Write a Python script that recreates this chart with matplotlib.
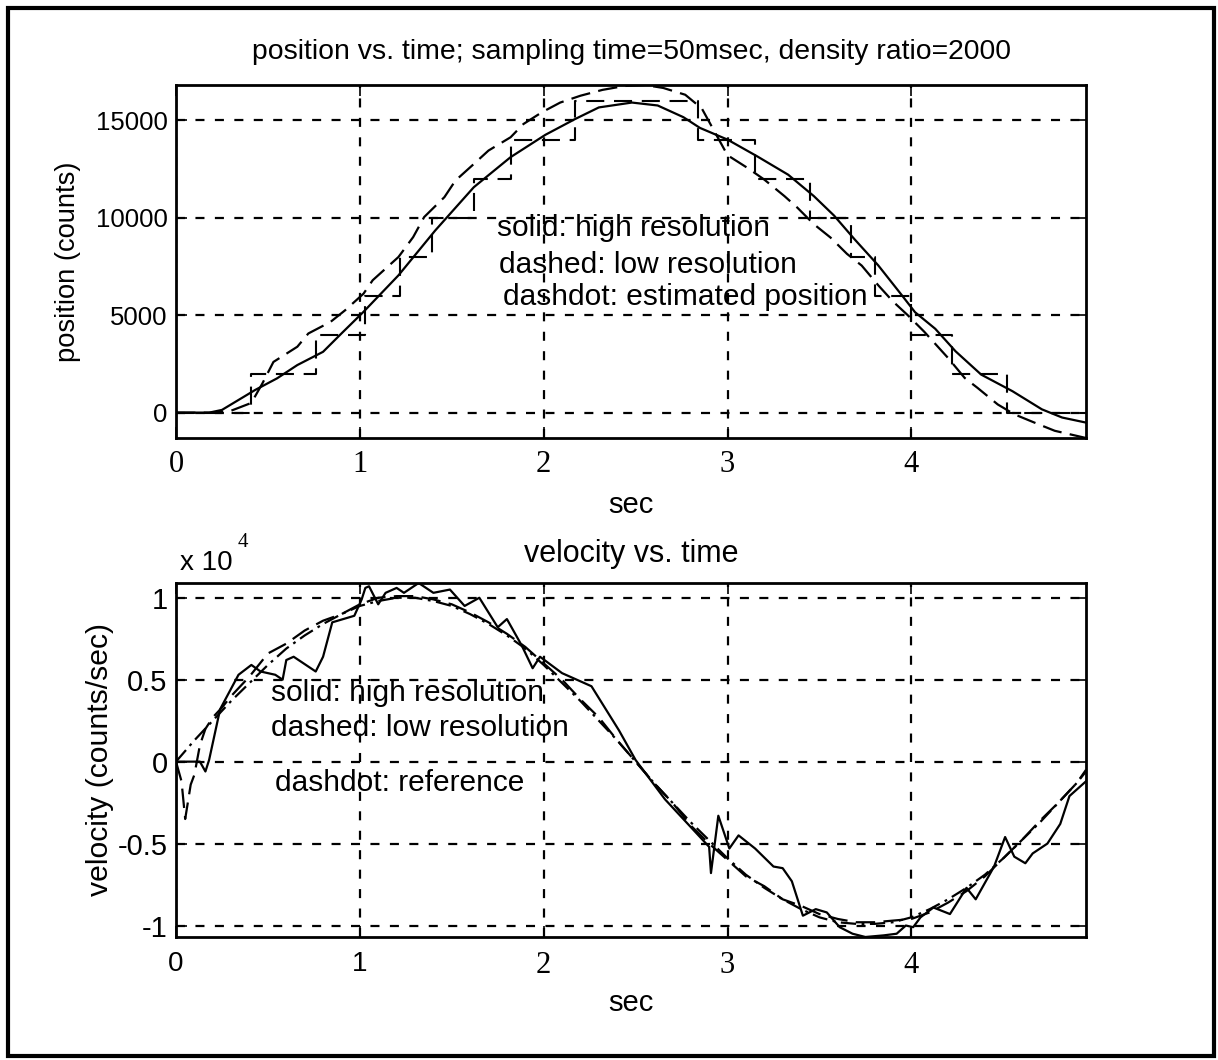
import numpy as np
import matplotlib
matplotlib.use("Agg")
import matplotlib.pyplot as plt
from matplotlib.patches import Rectangle

# ---------------- data ----------------
# position plot (counts), time in sec
pos_hi_t = [0, 0.18, 0.25, 0.43, 0.55, 0.66, 0.80, 0.90, 1.02, 1.21, 1.41, 1.62, 1.82,
            2.01, 2.17, 2.30, 2.48, 2.62, 2.76, 2.85, 3.00, 3.16, 3.33, 3.47, 3.58, 3.69,
            3.82, 3.95, 4.02, 4.13, 4.24, 4.38, 4.55, 4.71, 4.82, 4.95]
pos_hi = [0, 0, 140, 1160, 1760, 2440, 3120, 4060, 5170, 7040, 9340, 11560, 13100,
          14250, 15050, 15650, 15900, 15750, 15150, 14600, 14000, 13150, 12200, 11100, 10100, 8900,
          7550, 6000, 5150, 4300, 3150, 1950, 1100, 170, -250, -510]

# low resolution (quantized) position: step times and levels
pos_lo_t = [0, 0.41, 0.76, 1.03, 1.22, 1.39, 1.62, 1.82, 2.17, 2.84, 3.15, 3.45, 3.67,
            3.80, 4.00, 4.22, 4.52, 4.95]
pos_lo = [0, 2000, 4000, 6000, 8000, 10000, 12000, 14000, 16000, 14000, 12000, 10000, 8000,
          6000, 4000, 2000, 0, 0]

# estimated position
pos_est_t = [0, 0.2, 0.3, 0.41, 0.47, 0.53, 0.66, 0.72, 0.84, 0.92, 1.02, 1.07, 1.21, 1.29,
             1.35, 1.46, 1.52, 1.62, 1.70, 1.82, 1.89, 1.99, 2.09, 2.20, 2.32, 2.44, 2.55,
             2.65, 2.77, 2.86, 2.93, 3.00, 3.11, 3.20, 3.31, 3.38, 3.47, 3.56, 3.65, 3.73,
             3.82, 3.90, 3.98, 4.07, 4.20, 4.29, 4.36, 4.47, 4.56, 4.69, 4.78, 4.95]
pos_est = [0, 0, 100, 500, 1500, 2600, 3380, 4060, 4650, 5250, 6100, 6790, 7980, 9000,
           10030, 11050, 11900, 12750, 13440, 14120, 14800, 15400, 15900, 16250, 16550, 16750, 16800,
           16650, 16300, 15600, 14400, 13200, 12540, 11950, 11100, 10510, 9660, 8980, 8140, 7540,
           6530, 5700, 5000, 4150, 2800, 1780, 1270, 420, -85, -590, -930, -1300]

# velocity plot (x 10^4 counts/sec)
vel_hi_t = [0, 0.13, 0.16, 0.18, 0.24, 0.34, 0.41, 0.46, 0.54, 0.58, 0.60, 0.64, 0.76, 0.80,
            0.85, 0.97, 1.01, 1.03, 1.05, 1.10, 1.14, 1.20, 1.24, 1.32, 1.40, 1.49, 1.57,
            1.65, 1.75, 1.80, 1.88, 1.94, 1.98, 2.10, 2.26, 2.41, 2.50, 2.66, 2.90, 2.91,
            2.95, 3.01, 3.06, 3.15, 3.25, 3.30, 3.35, 3.41, 3.48, 3.54, 3.61, 3.68, 3.75,
            3.85, 3.92, 3.97, 4.01, 4.05, 4.12, 4.21, 4.30, 4.35, 4.45, 4.51, 4.56, 4.62,
            4.66, 4.74, 4.81, 4.86, 4.95]
vel_hi = [0, 0, -0.06, 0.01, 0.32, 0.53, 0.59, 0.55, 0.53, 0.50, 0.62, 0.64, 0.55, 0.64,
          0.85, 0.89, 0.99, 1.06, 1.07, 0.96, 1.03, 1.06, 1.03, 1.09, 1.03, 1.05, 0.95,
          1.00, 0.82, 0.87, 0.71, 0.57, 0.64, 0.54, 0.46, 0.19, 0.01, -0.23, -0.52, -0.68,
          -0.33, -0.53, -0.45, -0.53, -0.64, -0.65, -0.73, -0.94, -0.90, -0.92, -1.01, -1.05, -1.07,
          -1.06, -1.05, -1.00, -1.01, -0.95, -0.89, -0.93, -0.77, -0.84, -0.64, -0.46, -0.58, -0.62,
          -0.56, -0.50, -0.38, -0.21, -0.12]

vel_lo_t = [0, 0.03, 0.05, 0.08, 0.10, 0.13, 0.16, 0.2, 0.25, 0.3, 0.4, 0.5, 0.6, 0.7, 0.8,
            0.9, 1.0, 1.1, 1.2, 1.3, 1.4, 1.5, 1.6, 1.7, 1.8, 1.9, 2.0, 2.1, 2.2, 2.3, 2.4,
            2.5, 2.6, 2.7, 2.8, 2.9, 3.0, 3.1, 3.2, 3.3, 3.4, 3.5, 3.6, 3.7, 3.8, 3.9, 4.0,
            4.1, 4.2, 4.3, 4.4, 4.5, 4.6, 4.7, 4.8, 4.9, 4.95]
vel_lo = [0, -0.12, -0.35, -0.14, -0.08, 0.10, 0.20, 0.27, 0.33, 0.40, 0.52, 0.66, 0.72, 0.80, 0.86,
          0.90, 0.96, 1.00, 1.01, 1.01, 0.99, 0.96, 0.91, 0.85, 0.78, 0.70, 0.60, 0.50, 0.38, 0.27, 0.13,
          0.0, -0.13, -0.25, -0.39, -0.50, -0.60, -0.70, -0.76, -0.84, -0.88, -0.93, -0.96, -0.98, -0.98, -0.97, -0.96,
          -0.92, -0.86, -0.79, -0.70, -0.59, -0.48, -0.36, -0.25, -0.13, -0.05]

vel_ref_t = [0, 0.1, 0.2, 0.3, 0.4, 0.5, 0.6, 0.7, 0.8, 0.9, 1.0, 1.1, 1.2, 1.3, 1.4, 1.5, 1.6,
             1.7, 1.8, 1.9, 2.0, 2.1, 2.2, 2.3, 2.4, 2.5, 2.6, 2.7, 2.8, 2.9, 3.0, 3.1, 3.2,
             3.3, 3.4, 3.5, 3.6, 3.7, 3.8, 3.9, 4.0, 4.1, 4.2, 4.3, 4.4, 4.5, 4.6, 4.7, 4.8,
             4.9, 4.95]
vel_ref = [0, 0.13, 0.25, 0.37, 0.48, 0.59, 0.69, 0.77, 0.84, 0.90, 0.95, 0.98, 1.0, 1.0, 0.98,
           0.95, 0.90, 0.84, 0.77, 0.69, 0.59, 0.48, 0.37, 0.25, 0.13, 0, -0.13, -0.25, -0.37,
           -0.48, -0.59, -0.69, -0.77, -0.84, -0.90, -0.95, -0.98, -0.99, -0.99, -0.98, -0.95,
           -0.90, -0.84, -0.77, -0.69, -0.59, -0.48, -0.37, -0.25, -0.13, -0.06]

x_ticks = [0, 1, 2, 3, 4]
pos_yticks = [0, 5000, 10000, 15000]
vel_yticks = [-1, -0.5, 0, 0.5, 1]
vel_yticklabels = ["-1", "-0.5", "0", "0.5", "1"]

# ---------------- style ----------------
plt.rcParams["font.family"] = ["Liberation Sans", "DejaVu Sans"]
plt.rcParams["lines.scale_dashes"] = False

W, H = 1218, 1060
fig = plt.figure(figsize=(W / 100, H / 100), dpi=100)
fig.patch.set_facecolor("white")

def px_rect(left, top, right, bottom):
    return [left / W, 1 - bottom / H, (right - left) / W, (bottom - top) / H]

ax1 = fig.add_axes(px_rect(176, 85, 1086, 438))
ax2 = fig.add_axes(px_rect(176, 583, 1086, 937))

FS = 18.5      # tick labels (top y axis)
FA = 21.5      # annotations
grid_kw = dict(color="black", linewidth=1.6, linestyle=(0, (6.5, 7.5)))
dash_long = (0, (14, 6))
dash_stair = (0, (13, 7))
dash_dot = (0, (11, 4, 2, 4))

def style_axes(ax, xfamilies, xsizes, ysize, xpad):
    ax.set_xlim(0, 4.95)
    ax.set_xticks(x_ticks)
    ax.set_xticklabels([str(v) for v in x_ticks])
    ax.tick_params(direction="in", length=8, width=1.2, top=True, right=True)
    ax.tick_params(axis="x", pad=xpad)
    ax.tick_params(axis="y", pad=6, labelsize=ysize)
    for lbl, fam, sz in zip(ax.get_xticklabels(), xfamilies, xsizes):
        lbl.set_fontfamily(fam)
        lbl.set_fontsize(sz)
    ax.grid(True, **grid_kw)
    ax.set_axisbelow(True)
    for s in ax.spines.values():
        s.set_linewidth(2.0)

# ---- top: position ----
ax1.plot(pos_hi_t, pos_hi, color="black", lw=1.6, linestyle="-")
ax1.plot(pos_lo_t, pos_lo, color="black", lw=1.5, linestyle=dash_stair, drawstyle="steps-post")
ax1.plot(pos_est_t, pos_est, color="black", lw=1.6, linestyle=dash_long)
ax1.set_ylim(min(pos_est), max(pos_est))
ax1.set_yticks(pos_yticks)
style_axes(ax1, ["Liberation Serif"] * 5, [22] * 5, FS, 9)
ax1.set_title("position vs. time; sampling time=50msec, density ratio=2000",
              fontsize=20.4, pad=19)
ax1.set_xlabel("sec", fontsize=21)
ax1.xaxis.label.set_va("center")
ax1.xaxis.set_label_coords(0.5, -0.19)
ax1.set_ylabel("position (counts)", fontsize=19.7)
ax1.yaxis.label.set_va("center")
ax1.yaxis.set_label_coords(-0.1187, 0.5)
ax1.text(0.3527, 0.595, "solid: high resolution", transform=ax1.transAxes,
         fontsize=FA, va="center", ha="left")
ax1.text(0.355, 0.490, "dashed: low resolution", transform=ax1.transAxes,
         fontsize=FA, va="center", ha="left")
ax1.text(0.359, 0.399, "dashdot: estimated position", transform=ax1.transAxes,
         fontsize=FA, va="center", ha="left")

# ---- bottom: velocity ----
ax2.plot(vel_hi_t, vel_hi, color="black", lw=1.6, linestyle="-")
ax2.plot(vel_lo_t, vel_lo, color="black", lw=1.6, linestyle=dash_long)
ax2.plot(vel_ref_t, vel_ref, color="black", lw=1.6, linestyle=dash_dot)
vmin = min(min(vel_hi), min(vel_lo), min(vel_ref))
vmax = max(max(vel_hi), max(vel_lo), max(vel_ref))
ax2.set_ylim(vmin, vmax)
ax2.set_yticks(vel_yticks)
ax2.set_yticklabels(vel_yticklabels)
style_axes(ax2, ["Liberation Sans", "Liberation Sans", "Liberation Serif",
                 "Liberation Serif", "Liberation Serif"], [20, 20, 22, 22, 22], 21, 10)
ax2.set_title("velocity vs. time", fontsize=22, pad=15)
ax2.set_xlabel("sec", fontsize=21)
ax2.xaxis.label.set_va("center")
ax2.xaxis.set_label_coords(0.5, -0.186)
ax2.set_ylabel("velocity (counts/sec)", fontsize=21.7)
ax2.yaxis.label.set_va("center")
ax2.yaxis.set_label_coords(-0.0835, 0.5)
ax2.text(0.0044, 1.056, "x 10", transform=ax2.transAxes, fontsize=20,
         va="center", ha="left")
ax2.text(0.0736, 1.113, "4", transform=ax2.transAxes, fontsize=15,
         va="center", ha="center", family="Liberation Serif")
ax2.text(0.104, 0.689, "solid: high resolution", transform=ax2.transAxes,
         fontsize=FA, va="center", ha="left")
ax2.text(0.104, 0.590, "dashed: low resolution", transform=ax2.transAxes,
         fontsize=FA, va="center", ha="left")
ax2.text(0.109, 0.435, "dashdot: reference", transform=ax2.transAxes,
         fontsize=FA, va="center", ha="left")

# outer frame
fig.patches.append(Rectangle((8 / W, 4 / H), 1206 / W, 1048 / H, transform=fig.transFigure,
                             fill=False, edgecolor="black", linewidth=3.0))

fig.savefig("out.png", dpi=100)
